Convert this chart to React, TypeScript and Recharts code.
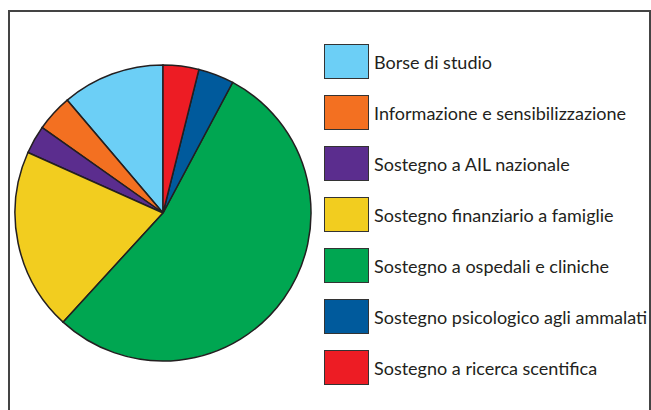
import React from "react";
import { PieChart, Pie, Cell, Legend } from "recharts";

const categories = [
  "Borse di studio",
  "Informazione e sensibilizzazione",
  "Sostegno a AIL nazionale",
  "Sostegno finanziario a famiglie",
  "Sostegno a ospedali e cliniche",
  "Sostegno psicologico agli ammalati",
  "Sostegno a ricerca scentifica",
];
const values = [11.2, 4.0, 3.1, 19.9, 54.0, 3.9, 3.9];
const colors = ["#6CCFF6", "#F37021", "#5B2D8E", "#F2CD1F", "#00A651", "#005A9C", "#ED1C24"];

const data = categories.map((name, i) => ({ name, value: values[i] }));

const FONT = "Lato, 'Open Sans', sans-serif";

const renderLegend = () => {
  return (
    <div style={{ display: "flex", flexDirection: "column" }}>
      {categories.map((name, i) => (
        <div
          key={name}
          style={{ display: "flex", alignItems: "center", height: 35, marginBottom: 16 }}
        >
          <div
            style={{
              width: 45,
              height: 35,
              boxSizing: "border-box",
              background: colors[i],
              border: "1.5px solid #333",
            }}
          />
          <span
            style={{
              marginLeft: 5,
              fontFamily: FONT,
              fontSize: 18,
              color: "#231F20",
              whiteSpace: "nowrap",
            }}
          >
            {name}
          </span>
        </div>
      ))}
    </div>
  );
};

export default function App() {
  return (
    <div style={{ position: "absolute", left: 0, top: 0, width: 651, height: 410, background: "#fff", overflow: "hidden" }}>
      <div
        style={{
          position: "absolute",
          left: 8,
          top: 10,
          width: 643,
          height: 420,
          boxSizing: "border-box",
          border: "2px solid #444",
        }}
      />
      <div style={{ position: "absolute", left: 0, top: 0 }}>
        <PieChart width={651} height={410} margin={{ top: 0, right: 0, bottom: 0, left: 0 }}>
          <Pie
            data={data}
            dataKey="value"
            nameKey="name"
            cx={163}
            cy={213}
            outerRadius={148}
            startAngle={90}
            endAngle={450}
            stroke="#231F20"
            strokeWidth={1.5}
            isAnimationActive={false}
          >
            {data.map((d, i) => (
              <Cell key={d.name} fill={colors[i]} />
            ))}
          </Pie>
          <Legend
            content={renderLegend}
            wrapperStyle={{ position: "absolute", left: 324, top: 44, width: 325 }}
          />
        </PieChart>
      </div>
    </div>
  );
}
